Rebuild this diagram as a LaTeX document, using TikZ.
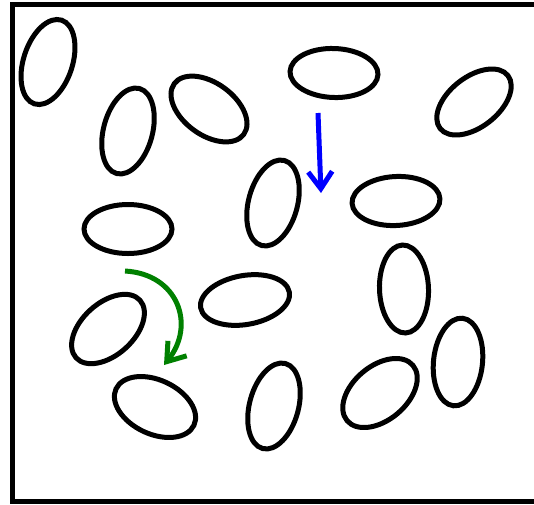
\documentclass[tikz,border=0pt]{standalone}
\usetikzlibrary{shapes.geometric,arrows.meta}
\definecolor{arrblue}{RGB}{0,0,255}
\definecolor{arrgreen}{RGB}{0,128,0}
\tikzset{
  blob/.style={ellipse,draw=black,line width=5pt,minimum width=88pt,minimum height=49pt,inner sep=0pt,outer sep=0pt},
  framestyle/.style={line width=5pt,draw=black},
  moveline/.style={line width=5pt,-{Straight Barb[length=17pt,width=24pt]}}
}
\begin{document}
\begin{tikzpicture}[x=1pt,y=-1pt]
\useasboundingbox (0,0) rectangle (534,504);
\draw[framestyle] (545,4.5) -- (12.5,4.5) -- (12.5,501) -- (545,501);
\node[blob,rotate=72] (e1) at (48,62) {};
\node[blob,rotate=-105] (e2) at (128,131) {};
\node[blob,rotate=-36,minimum width=86pt,minimum height=52pt] (e3) at (209,109) {};
\node[blob,rotate=-2] (e4) at (334,73) {};
\node[blob,rotate=38,minimum width=86pt,minimum height=50pt] (e5) at (474,102) {};
\node[blob,rotate=75] (e6) at (273,203) {};
\node[blob,rotate=3] (e7) at (396,201) {};
\node[blob,rotate=0] (e8) at (128,229) {};
\node[blob,rotate=92] (e9) at (404,289) {};
\node[blob,rotate=42,minimum width=86pt,minimum height=52pt] (e10) at (108,329) {};
\node[blob,rotate=10,minimum width=90pt] (e11) at (245,300) {};
\node[blob,rotate=84] (e12) at (458,362) {};
\node[blob,rotate=-25,minimum width=86pt,minimum height=54pt] (e13) at (155,407) {};
\node[blob,rotate=75] (e14) at (274,406) {};
\node[blob,rotate=40,minimum width=86pt,minimum height=54pt] (e15) at (380,393) {};
\coordinate (b0) at (318,113);
\coordinate (b1) at (321,193);
\draw[moveline,draw=arrblue] (b0) -- (b1);
\coordinate (g0) at (125,271);
\coordinate (g1) at (164,365);
\draw[moveline,draw=arrgreen] (g0) .. controls (178,274) and (196,325) .. (g1);
\end{tikzpicture}
\end{document}
